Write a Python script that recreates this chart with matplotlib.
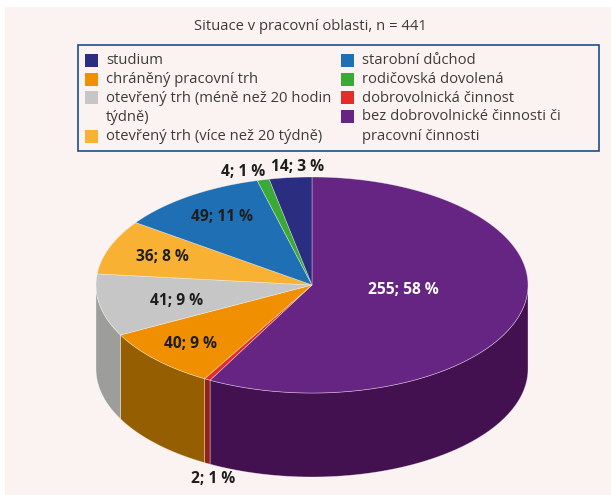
import numpy as np
import matplotlib.pyplot as plt
from matplotlib.patches import Polygon, Rectangle

plt.rcParams['font.family'] = ['Open Sans', 'DejaVu Sans']

# data (clockwise from 12 o'clock)
categories = ['bez dobrovolnické činnosti či\npracovní činnosti', 'dobrovolnická činnost',
              'chráněný pracovní trh', 'otevřený trh (méně než 20 hodin\ntýdně)',
              'otevřený trh (více než 20 týdně)', 'starobní důchod',
              'rodičovská dovolená', 'studium']
counts = [255, 2, 40, 41, 36, 49, 4, 14]
percents = [58, 1, 9, 9, 8, 11, 1, 3]

top_colors = ['#662483', '#E42D29', '#F08F00', '#C6C6C6', '#F8B133', '#1F6FB5', '#3AA935', '#2B2D80']
side_colors = ['#43114F', '#93211A', '#955E00', '#9D9D9C', '#A07020', '#134878', '#266E22', '#1B1D53']

# legend order (column by column)
legend_order = [7, 2, 3, 4, 5, 6, 1, 0]

fig = plt.figure(figsize=(6.11, 4.95), dpi=100)
ax = fig.add_axes([0, 0, 1, 1])
ax.set_xlim(0, 611)
ax.set_ylim(495, 0)
ax.axis('off')

ax.add_patch(Rectangle((5, 7), 611, 495, facecolor='#FBF3F1', edgecolor='none', zorder=0))

ax.text(310, 27, 'Situace v pracovní oblasti, n = 441', ha='center', va='center',
        fontsize=10.6, color='#3C3C3B')

# legend box
ax.add_patch(Rectangle((78, 45), 521, 106, facecolor='none', edgecolor='#1F4E8C', lw=1.2, zorder=2))
row_y = [60.5, 79, 97.5, 136, 60.5, 79, 97.5, 116.5]
col_x = [85, 85, 85, 85, 341, 341, 341, 341]
for k, idx in enumerate(legend_order):
    ax.add_patch(Rectangle((col_x[k], row_y[k] - 6.5), 13, 13, facecolor=top_colors[idx],
                           edgecolor='none', zorder=3))
    ax.text(col_x[k] + 21, row_y[k] - 7, categories[idx], ha='left', va='top',
            fontsize=10.6, color='#3C3C3B', linespacing=1.42)

# 3D pie
cx, cy, rx, ry, depth = 312, 285, 216, 108, 84
total = sum(counts)
cum = np.concatenate([[0], np.cumsum(counts)])
starts = 90 - cum[:-1] / total * 360
ends = 90 - cum[1:] / total * 360


def arc(t1, t2, n=200):
    t = np.radians(np.linspace(t1, t2, n))
    return np.column_stack([cx + rx * np.cos(t), cy - ry * np.sin(t)])


edge = (1, 1, 1, 0.45)
for i in range(len(counts)):
    lo = max(ends[i], -180)
    hi = min(starts[i], 0)
    if hi > lo:
        a = arc(hi, lo)
        b = a[::-1] + [0, depth]
        ax.add_patch(Polygon(np.vstack([a, b]), closed=True, facecolor=side_colors[i],
                             edgecolor=edge, lw=0.5, zorder=4))

for i in range(len(counts)):
    pts = np.vstack([[cx, cy], arc(starts[i], ends[i])])
    ax.add_patch(Polygon(pts, closed=True, facecolor=top_colors[i], edgecolor=edge,
                         lw=0.5, zorder=5))

# labels
label_pos = [(403, 290), (213, 479), (190, 344), (177, 301), (162, 257), (222, 217),
             (243, 172), (298, 167)]
for i in range(len(counts)):
    col = 'white' if i == 0 else '#1D1D1B'
    ax.text(label_pos[i][0], label_pos[i][1], f'{counts[i]}; {percents[i]} %', ha='center',
            va='center', fontsize=11.2, fontweight='bold', color=col, zorder=6)

fig.savefig('out.png', dpi=100, facecolor='white')
